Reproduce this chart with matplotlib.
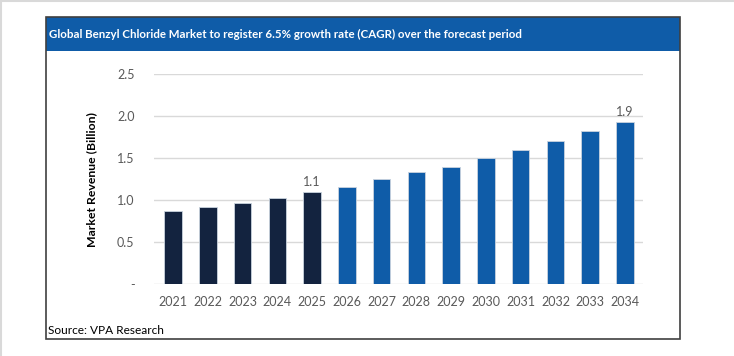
import matplotlib.pyplot as plt
from matplotlib.patches import Rectangle
from matplotlib.lines import Line2D

plt.rcParams["font.family"] = ["Lato", "DejaVu Sans"]

# -----------------------------------------
# Data
# -----------------------------------------

years = [str(y) for y in range(2021, 2035)]
revenue = [0.87, 0.92, 0.97, 1.03, 1.10, 1.16, 1.25,
           1.33, 1.40, 1.50, 1.60, 1.71, 1.82, 1.93]
historic_count = 5
labelled = {4: "1.1", 13: "1.9"}
y_ticks = [0, 0.5, 1.0, 1.5, 2.0, 2.5]
y_tick_labels = ["-", "0.5", "1.0", "1.5", "2.0", "2.5"]

title = "Global Benzyl Chloride Market to register 6.5% growth rate (CAGR) over the forecast period"
source = "Source: VPA Research"

W, H = 734, 356

fig = plt.figure(figsize=(W / 100, H / 100), dpi=100)


def fx(px):
    return px / W


def fy(py):
    return 1 - py / H


# -----------------------------------------
# Frame, title band
# -----------------------------------------

fig.add_artist(Line2D([0, 1], [fy(1), fy(1)], color="#d9d9d9", lw=1.5))
fig.add_artist(Line2D([fx(1.5), fx(1.5)], [0, 1], color="#d9d9d9", lw=1.5))

fig.add_artist(Rectangle((fx(46), fy(50.5)), fx(680) - fx(46), fy(17) - fy(50.5),
                         facecolor="#0f5ca8", edgecolor="none", zorder=1))
fig.add_artist(Rectangle((fx(46), fy(339)), fx(680) - fx(46), fy(17) - fy(339),
                         facecolor="none", edgecolor="#404040", lw=1.2, zorder=2))

fig.text(fx(49), fy(34), title, color="white", fontsize=8.3,
         fontweight="bold", va="center", ha="left")
fig.text(fx(48), fy(330.5), source, color="black", fontsize=8.6,
         va="center", ha="left")

# -----------------------------------------
# Bars
# -----------------------------------------

ax = fig.add_axes([fx(154), fy(284), fx(643) - fx(154), fy(74.3) - fy(284)])

colors = ["#13233f"] * historic_count + ["#0f5ca8"] * (len(years) - historic_count)
x = list(range(len(years)))

ax.bar(x, revenue, width=0.5, color=colors, edgecolor="#c9d3de",
       linewidth=0.6, zorder=3)

for i, text in labelled.items():
    ax.text(i, revenue[i] + 0.05, text, ha="center", va="bottom",
            color="#595959", fontsize=9)

ax.set_xlim(-0.55, 13.52)
ax.set_ylim(0, 2.5)
ax.set_xticks(x)
ax.set_xticklabels(years)
ax.set_yticks(y_ticks)
ax.set_yticklabels(y_tick_labels)
ax.tick_params(axis="both", length=0, colors="#595959", labelsize=9)
ax.tick_params(axis="x", pad=9)
ax.tick_params(axis="y", pad=14)

ax.grid(axis="y", color="#d9d9d9", lw=1, zorder=0)
for side in ["top", "right", "left", "bottom"]:
    ax.spines[side].set_visible(False)

ax.set_ylabel("Market Revenue (Billion)", fontsize=8.8, fontweight="bold",
              color="black", labelpad=14)

fig.savefig("out.png", dpi=100)
